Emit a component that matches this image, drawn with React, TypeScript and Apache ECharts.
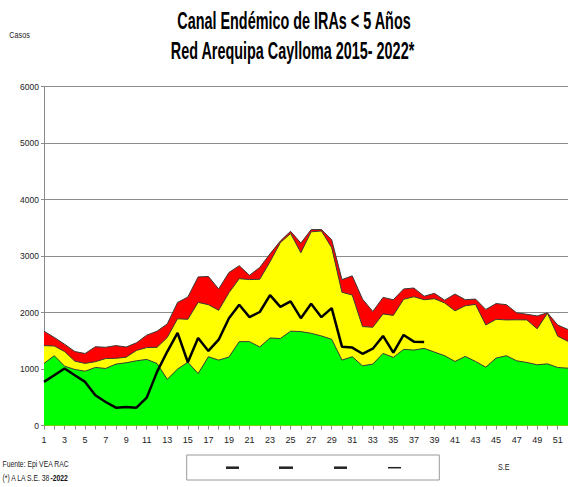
import React, { useEffect, useRef } from "react";
import * as echarts from "echarts";

const weeks: string[] = Array.from({ length: 52 }, (_, i) => String(i + 1));

// Epidemia (upper limit of red zone)
const epidemia: number[] = [
  1670, 1560, 1440, 1310, 1275, 1395, 1385, 1415, 1390, 1465,
  1600, 1670, 1800, 2180, 2275, 2631, 2640, 2418, 2710, 2830,
  2660, 2800, 3040, 3267, 3440, 3230, 3470, 3470, 3290, 2584,
  2650, 2239, 2020, 2269, 2228, 2418, 2435, 2290, 2340, 2220,
  2328, 2228, 2239, 2055, 2160, 2140, 1995, 1970, 1940, 1995,
  1780, 1700,
];

// Alerta (upper limit of yellow zone)
const alerta: number[] = [
  1414, 1408, 1310, 1140, 1100, 1130, 1185, 1190, 1210, 1330,
  1380, 1384, 1560, 1890, 1880, 2180, 2140, 2040, 2350, 2600,
  2584, 2590, 2900, 3237, 3400, 3060, 3430, 3445, 3150, 2360,
  2310, 1752, 1740, 1975, 1950, 2234, 2280, 2227, 2245, 2170,
  2030, 2120, 2145, 1780, 1880, 1870, 1872, 1870, 1713, 1988,
  1582, 1490,
];

// Seguridad (upper limit of green zone)
const seguridad: number[] = [
  1099, 1236, 1051, 992, 962, 1028, 1010, 1087, 1111, 1146,
  1170, 1099, 818, 1000, 1120, 921, 1218, 1158, 1212, 1485,
  1485, 1390, 1550, 1540, 1670, 1663, 1633, 1586, 1527, 1158,
  1218, 1057, 1087, 1277, 1206, 1348, 1336, 1366, 1300, 1236,
  1134, 1224, 1134, 1033, 1194, 1236, 1146, 1116, 1075, 1092,
  1027, 1015,
];

// Casos 2022 (to S.E. 38)
const casos2022: number[] = [
  772, 891, 1010, 891, 772, 535, 416, 315, 327, 315,
  493, 950, 1310, 1640, 1120, 1550, 1320, 1520, 1900, 2138,
  1919, 2010, 2310, 2100, 2198, 1900, 2156, 1919, 2079, 1396,
  1380, 1270, 1360, 1586, 1289, 1604, 1485, 1480,
];

const yTicks = { min: 0, max: 6000, interval: 1000 };

const NARROW = "'Liberation Sans Narrow', 'Arial Narrow', 'Liberation Sans', sans-serif";

export default function App() {
  const ref = useRef<HTMLDivElement>(null);

  useEffect(() => {
    if (!ref.current) return;
    const chart = echarts.init(ref.current, null, { renderer: "svg" });
    const areaSeries = (name: string, data: number[], color: string, z: number) => ({
      name,
      type: "line",
      data,
      symbol: "none",
      z,
      lineStyle: { color: "#3a3a3a", width: 1 },
      areaStyle: { color, opacity: 1 },
    });
    const smallText = (text: string, x: number, y: number, scaleX: number, extra: any = {}) => ({
      type: "text",
      x,
      y,
      scaleX,
      style: {
        text,
        fontSize: 8.5,
        fontFamily: NARROW,
        fill: "#222",
        verticalAlign: "middle",
        ...extra,
      },
    });
    chart.setOption({
      animation: false,
      backgroundColor: "#ffffff",
      textStyle: { fontFamily: NARROW },
      grid: { left: 44, right: -4, top: 86.7, bottom: 61.5, containLabel: false },
      xAxis: {
        type: "category",
        data: weeks,
        boundaryGap: false,
        axisLine: { lineStyle: { color: "#8a8a8a", width: 1 } },
        axisTick: { show: true, interval: 0, length: 4, lineStyle: { color: "#8a8a8a" } },
        axisLabel: { interval: 1, fontSize: 9, color: "#222", margin: 10, fontFamily: NARROW },
        splitLine: { show: false },
      },
      yAxis: {
        type: "value",
        min: yTicks.min,
        max: yTicks.max,
        interval: yTicks.interval,
        axisLine: { show: true, lineStyle: { color: "#8a8a8a", width: 1 } },
        axisTick: { show: true, length: 3, lineStyle: { color: "#8a8a8a" } },
        axisLabel: {
          fontSize: 8.5,
          color: "#222",
          margin: 5,
          fontFamily: NARROW,
          formatter: (v: number) => String(v),
        },
        splitLine: { show: true, lineStyle: { color: "#8c8c8c", width: 1 } },
      },
      series: [
        areaSeries("Epidemia", epidemia, "#ff0000", 1),
        areaSeries("Alerta", alerta, "#ffff00", 2),
        areaSeries("Seguridad", seguridad, "#00ff00", 3),
        {
          name: "2022",
          type: "line",
          data: casos2022,
          symbol: "none",
          z: 4,
          lineStyle: { color: "#000000", width: 2.5 },
        },
      ],
      graphic: [
        {
          type: "text",
          x: 294,
          y: 21,
          scaleX: 0.6,
          style: {
            text: "Canal Endémico de IRAs < 5 Años",
            fontSize: 24,
            fontWeight: "bold",
            fontFamily: NARROW,
            fill: "#000",
            align: "center",
            verticalAlign: "middle",
          },
        },
        {
          type: "text",
          x: 292.5,
          y: 50.5,
          scaleX: 0.6,
          style: {
            text: "Red Arequipa Caylloma 2015- 2022*",
            fontSize: 24,
            fontWeight: "bold",
            fontFamily: NARROW,
            fill: "#000",
            align: "center",
            verticalAlign: "middle",
          },
        },
        smallText("Casos", 9.3, 35.7, 0.85),
        smallText("Fuente: Epi VEA RAC", 2.5, 464, 0.8),
        smallText("(*) A LA S.E. 38{b|-2022}", 2.5, 478.3, 0.8, {
          rich: { b: { fontSize: 8.5, fontWeight: "bold", fontFamily: NARROW, fill: "#111" } },
        }),
        {
          type: "rect",
          shape: { x: 186.7, y: 455, width: 252.6, height: 25 },
          style: { fill: "#ffffff", stroke: "#9a9a9a", lineWidth: 1 },
        },
        { type: "line", shape: { x1: 226, y1: 467.7, x2: 239, y2: 467.7 }, style: { stroke: "#222", lineWidth: 2.5 } },
        { type: "line", shape: { x1: 279, y1: 467.7, x2: 293, y2: 467.7 }, style: { stroke: "#222", lineWidth: 2.5 } },
        { type: "line", shape: { x1: 334, y1: 467.7, x2: 347, y2: 467.7 }, style: { stroke: "#222", lineWidth: 2.5 } },
        { type: "line", shape: { x1: 388, y1: 467.7, x2: 401, y2: 467.7 }, style: { stroke: "#222", lineWidth: 1.5 } },
        smallText("S.E", 498, 467, 0.85),
      ],
    });
    return () => chart.dispose();
  }, []);

  return (
    <div
      ref={ref}
      style={{ position: "fixed", left: 0, top: 0, width: 568, height: 487, background: "#fff" }}
    />
  );
}
